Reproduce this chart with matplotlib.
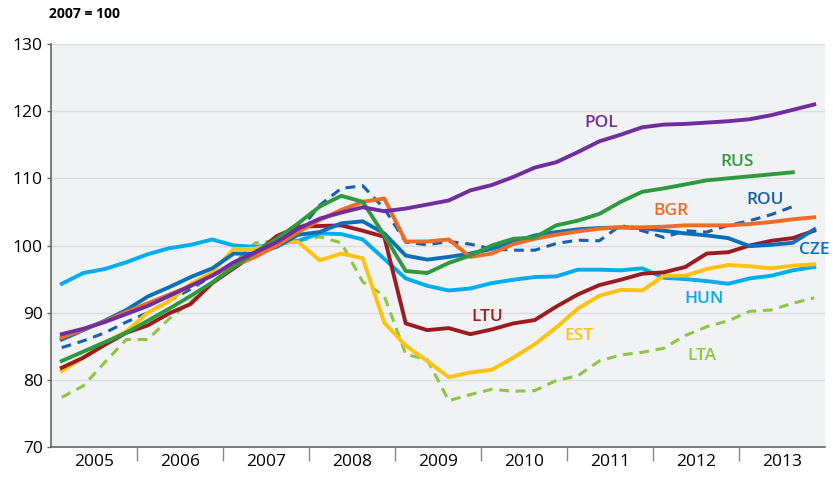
import numpy as np
import matplotlib
matplotlib.use('Agg')
from matplotlib import pyplot as plt

plt.rcParams['font.family'] = ['Open Sans', 'DejaVu Sans']

# quarterly index, 2007 = 100, 2005Q1 .. 2013Q4
years = list(range(2005, 2014))
quarters = 2005 + (np.arange(36) + 0.5) / 4

pol = [86.8, 87.6, 88.6, 89.8, 91.0, 92.5, 94.0, 95.5, 97.5, 99.0, 100.5, 102.5,
       104.0, 104.9, 105.7, 105.1, 105.5, 106.1, 106.7, 108.2, 109.0, 110.2, 111.6, 112.4,
       113.9, 115.5, 116.5, 117.6, 118.0, 118.1, 118.3, 118.5, 118.8, 119.4, 120.2, 121.0]
rus = [82.8, 84.2, 85.6, 87.0, 88.8, 90.6, 92.5, 94.5, 96.8, 99.0, 101.0, 103.3,
       105.8, 107.4, 106.5, 101.5, 96.2, 95.9, 97.4, 98.5, 100.0, 101.0, 101.2, 103.0,
       103.7, 104.7, 106.5, 108.0, 108.5, 109.1, 109.7, 110.0, 110.3, 110.6, 110.9, np.nan]
rou = [84.8, 85.8, 87.0, 88.6, 90.0, 91.8, 93.5, 95.5, 97.0, 98.5, 100.0, 102.0,
       106.0, 108.5, 108.9, 105.5, 100.5, 100.1, 100.6, 100.2, 99.5, 99.3, 99.3, 100.3,
       100.8, 100.7, 103.0, 102.2, 101.2, 102.2, 102.0, 103.0, 103.7, 104.6, 105.8, np.nan]
bgr = [86.3, 87.5, 88.7, 90.1, 91.4, 92.7, 94.0, 95.6, 97.0, 98.3, 100.0, 102.0,
       103.8, 105.3, 106.5, 107.0, 100.6, 100.6, 100.9, 98.3, 98.8, 100.2, 101.0, 101.6,
       102.1, 102.5, 102.7, 102.7, 102.8, 103.0, 103.0, 103.0, 103.2, 103.5, 103.9, 104.2]
cze = [86.0, 87.4, 88.8, 90.4, 92.4, 93.8, 95.3, 96.6, 98.8, 98.8, 99.8, 101.6,
       102.0, 103.3, 103.6, 101.8, 98.5, 97.9, 98.3, 98.8, 99.5, 100.5, 101.5, 102.0,
       102.4, 102.6, 102.7, 102.6, 102.2, 101.8, 101.5, 101.1, 99.9, 100.1, 100.4, 102.4]
hun = [94.3, 95.9, 96.5, 97.5, 98.7, 99.6, 100.1, 100.9, 100.0, 99.8, 100.2, 100.7,
       101.8, 101.7, 100.9, 98.0, 95.1, 94.0, 93.3, 93.6, 94.4, 94.9, 95.3, 95.4,
       96.4, 96.4, 96.3, 96.6, 95.2, 95.0, 94.7, 94.3, 95.1, 95.5, 96.3, 96.8]
ltu = [81.8, 83.3, 85.2, 87.0, 88.1, 89.9, 91.3, 94.4, 96.6, 98.8, 101.4, 102.8,
       102.9, 103.0, 102.2, 101.3, 88.4, 87.4, 87.7, 86.8, 87.5, 88.4, 88.9, 90.9,
       92.7, 94.1, 94.9, 95.8, 96.0, 96.8, 98.8, 99.0, 100.0, 100.7, 101.1, 102.2]
est = [81.3, 83.3, 85.5, 87.2, 90.0, 91.7, 94.3, 96.0, 99.5, 99.5, 100.5, 100.5,
       97.8, 98.8, 98.1, 88.5, 85.1, 82.8, 80.4, 81.1, 81.5, 83.3, 85.3, 87.8,
       90.6, 92.5, 93.4, 93.3, 95.5, 95.5, 96.5, 97.1, 96.9, 96.6, 97.0, 97.2]
lta = [77.4, 79.1, 82.6, 86.0, 86.0, 89.1, 91.6, 94.5, 97.3, 100.4, 100.7, 100.7,
       101.3, 100.4, 94.6, 92.5, 83.8, 83.0, 76.9, 77.8, 78.6, 78.3, 78.4, 79.9,
       80.6, 82.8, 83.7, 84.1, 84.7, 86.6, 87.9, 88.8, 90.2, 90.4, 91.4, 92.2]

fig = plt.figure(figsize=(8.33, 4.78), dpi=100)
ax = fig.add_axes([51 / 833, 1 - 447 / 478, 774 / 833, 403 / 478])
ax.set_facecolor('#F1F2F4')

for v in range(80, 131, 10):
    ax.axhline(v, color='#DCDDE0', lw=1.0, zorder=0)

# (name, data, colour, dashed, label x, label y)
series = [
    ('LTA', lta, '#8DC63F', True, 2012.57, 83.6),
    ('ROU', rou, '#1660AE', True, 2013.30, 106.7),
    ('HUN', hun, '#00AEEF', False, 2012.59, 92.0),
    ('EST', est, '#FFC20E', False, 2011.14, 86.6),
    ('LTU', ltu, '#9B1B21', False, 2010.07, 89.3),
    ('CZE', cze, '#0A70BA', False, 2013.88, 99.4),
    ('BGR', bgr, '#F26B25', False, 2012.21, 105.1),
    ('RUS', rus, '#2E9A3F', False, 2012.98, 112.4),
    ('POL', pol, '#6F2DA0', False, 2011.40, 118.2),
]

for name, vals, col, dashed, lx, ly in series:
    if dashed:
        ax.plot(quarters, vals, color=col, lw=2.2, ls=(0, (3.2, 2.2)), zorder=2)
    else:
        ax.plot(quarters, vals, color=col, lw=2.8, zorder=3)
    ax.text(lx, ly, name, color=col, fontsize=12.5, fontweight='semibold',
            ha='center', va='center', zorder=5)

ax.set_xlim(2005, 2014)
ax.set_ylim(70, 130)
ax.set_yticks(range(70, 131, 10))
ax.tick_params(axis='y', length=3, width=1, color='#666666', labelsize=12.5, pad=3)

ax.set_xticks(range(2006, 2014))
ax.set_xticklabels([])
ax.set_xticks([y + 0.5 for y in years], minor=True)
ax.set_xticklabels([str(y) for y in years], minor=True)
ax.tick_params(axis='x', which='major', length=10, width=1, color='#888888', direction='out')
ax.tick_params(axis='x', which='minor', length=0, labelsize=12.5, pad=5)

for s in ['top', 'right']:
    ax.spines[s].set_visible(False)
for s in ['left', 'bottom']:
    ax.spines[s].set_color('#666666')
    ax.spines[s].set_linewidth(1.2)

fig.text(49 / 833, 1 - 14 / 478, '2007 = 100', fontsize=10, fontweight='bold',
         ha='left', va='center')

fig.savefig('out.png', dpi=100)
